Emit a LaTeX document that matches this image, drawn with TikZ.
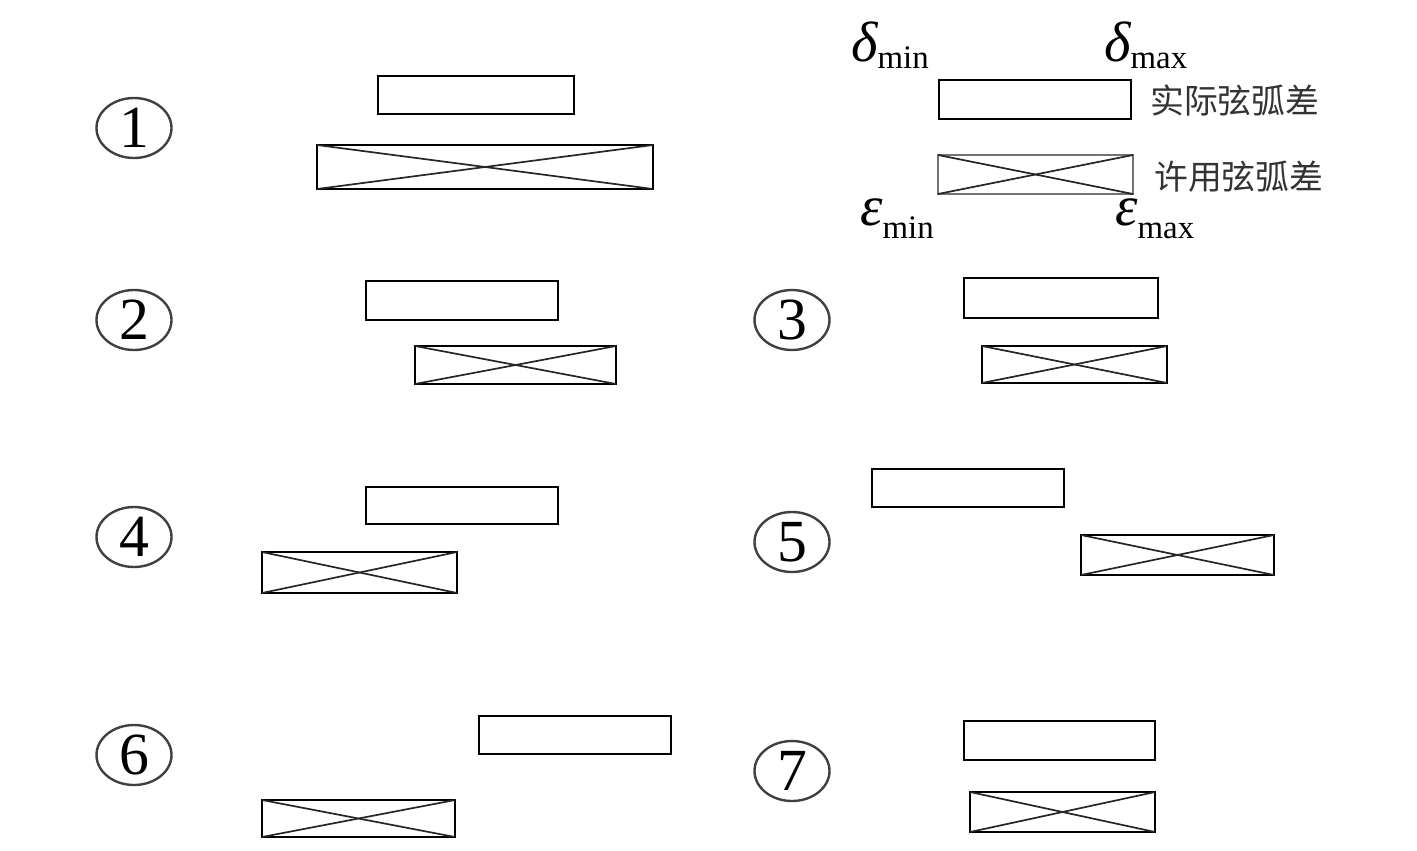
\documentclass[tikz,border=0pt]{standalone}
\usepackage{fontspec}
\setmainfont{Liberation Serif}
\newfontfamily\cjk{Noto Sans CJK SC}
\usetikzlibrary{shapes.geometric}
\tikzset{
  numcirc/.style={ellipse, draw=black!75, line width=2.4bp, minimum width=75bp, minimum height=60bp, inner sep=0pt,
    font=\fontsize{60}{60}\selectfont},
  pb/.style={draw=black, line width=2.9bp, inner sep=0pt, outer sep=0pt},
  xb/.style={draw=black, line width=2.9bp, inner sep=0pt, outer sep=0pt},
  xl/.style={draw=black!85, line width=1.7bp},
  lbl/.style={inner sep=0pt, anchor=base west},
  cjklbl/.style={inner sep=0pt, text=black!80, font=\cjk\fontsize{34}{34}\selectfont}
}
\newcommand\pbox[5]{\node[pb, minimum width={(#4-#2)*1bp}, minimum height={(#5-#3)*1bp}] (#1) at ({(#2+#4)/2},{(#3+#5)/2}) {};}
\newcommand\xbox[6][]{\node[xb, minimum width={(#5-#3)*1bp}, minimum height={(#6-#4)*1bp}, #1] (#2) at ({(#3+#5)/2},{(#4+#6)/2}) {};
  \draw[xl] (#2.north west) -- (#2.south east);
  \draw[xl] (#2.south west) -- (#2.north east);}
\newcommand\sub[2]{\raisebox{#1}{\fontsize{33}{33}\selectfont\upshape #2}}
\begin{document}
\begin{tikzpicture}[x=1bp, y=-1bp]
\useasboundingbox (0,0) rectangle (1417,850);
% circled numbers
\node[numcirc] (c1) at (134,128) {1};
\node[numcirc] (c2) at (134,320) {2};
\node[numcirc] (c3) at (792,320) {3};
\node[numcirc] (c4) at (134,537) {4};
\node[numcirc] (c5) at (792,542) {5};
\node[numcirc] (c6) at (134,755) {6};
\node[numcirc] (c7) at (792,771) {7};
% case 1
\pbox{a1}{378}{76}{574}{114}
\xbox{b1}{317}{145}{653}{189}
% legend
\pbox{la}{939}{80}{1131}{119}
\xbox[draw=black!55]{lb}{938}{155}{1133}{194}
\node[cjklbl, anchor=west] (lt1) at (1150,101) {实际弦弧差};
\node[cjklbl, anchor=west] (lt2) at (1154,177) {许用弦弧差};
\node[lbl] (dmin) at (851,61) {\fontsize{57}{57}\selectfont\itshape δ\sub{-0.14em}{min}};
\node[lbl] (dmax) at (1104,61) {\fontsize{57}{57}\selectfont\itshape δ\sub{-0.14em}{max}};
\node[lbl] (emin) at (860,225) {\fontsize{57}{57}\selectfont\itshape ε\sub{-0.23em}{min}};
\node[lbl] (emax) at (1115,225) {\fontsize{57}{57}\selectfont\itshape ε\sub{-0.23em}{max}};
% case 2
\pbox{a2}{366}{281}{558}{320}
\xbox{b2}{415}{346}{616}{384}
% case 3
\pbox{a3}{964}{278}{1158}{318}
\xbox{b3}{982}{346}{1167}{383}
% case 4
\pbox{a4}{366}{487}{558}{524}
\xbox{b4}{262}{552}{457}{593}
% case 5
\pbox{a5}{872}{469}{1064}{507}
\xbox{b5}{1081}{535}{1274}{575}
% case 6
\pbox{a6}{479}{716}{671}{754}
\xbox{b6}{262}{800}{455}{837}
% case 7
\pbox{a7}{964}{721}{1155}{760}
\xbox{b7}{970}{792}{1155}{832}
\end{tikzpicture}
\end{document}
